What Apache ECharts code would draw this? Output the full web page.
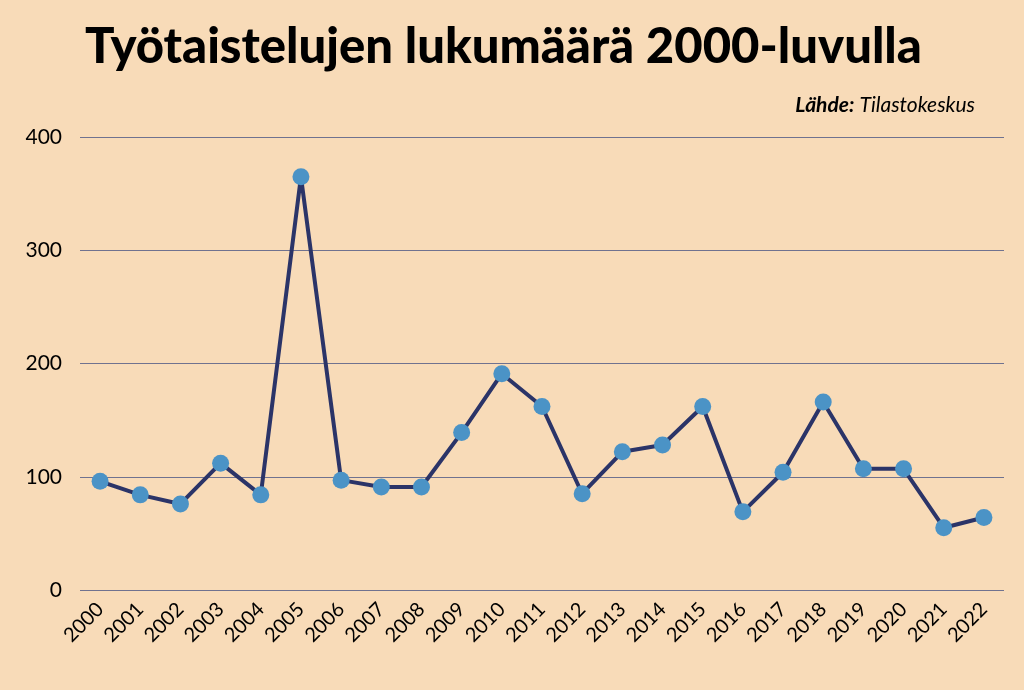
<!DOCTYPE html>
<html>
<head>
<meta charset="utf-8">
<style>
  html, body { margin: 0; padding: 0; background: #f8dbb8; }
  #chart { width: 1024px; height: 690px; }
</style>
<script src="https://cdn.jsdelivr.net/npm/echarts@6/dist/echarts.min.js"></script>
</head>
<body>
<div id="chart"></div>
<script>
var years = ['2000', '2001', '2002', '2003', '2004', '2005', '2006', '2007', '2008', '2009', '2010', '2011',
    '2012', '2013', '2014', '2015', '2016', '2017', '2018', '2019', '2020', '2021', '2022'];
var strikes = [96, 84, 76, 112, 84, 365, 97, 91, 91, 139, 191, 162,
    85, 122, 128, 162, 69, 104, 166, 107, 107, 55, 64];
var yTicks = [0, 100, 200, 300, 400];

var chart = echarts.init(document.getElementById('chart'));
var option = {
    backgroundColor: '#f8dbb8',
    title: [{
        text: 'Työtaistelujen lukumäärä 2000-luvulla',
        left: 80, top: 18,
        textStyle: {fontFamily: 'Lato', fontWeight: 900, fontSize: 49, color: '#000'}
    }, {
        text: '{b|Lähde:} {i|Tilastokeskus}',
        right: 44, top: 90,
        textStyle: {
            rich: {
                b: {fontFamily: 'Lato', fontWeight: 'bold', fontStyle: 'italic', fontSize: 21, color: '#000'},
                i: {fontFamily: 'Lato', fontWeight: 'normal', fontStyle: 'italic', fontSize: 21, color: '#000'}
            }
        }
    }],
    grid: {left: 80, right: 20, top: 137, bottom: 100, containLabel: false},
    xAxis: {
        type: 'category', data: years, boundaryGap: true,
        axisLine: {show: false}, axisTick: {show: false},
        axisLabel: {rotate: 45, margin: 16, fontFamily: 'Lato', fontSize: 20, color: '#000', interval: 0}
    },
    yAxis: {
        type: 'value', min: yTicks[0], max: yTicks[yTicks.length - 1], interval: 100,
        axisLine: {show: false}, axisTick: {show: false},
        axisLabel: {margin: 18, fontFamily: 'Lato', fontSize: 21, color: '#000'},
        splitLine: {lineStyle: {color: '#70728f', width: 1}}
    },
    series: [{
        type: 'line', data: strikes,
        symbol: 'circle', symbolSize: 17,
        lineStyle: {color: '#2b3468', width: 4},
        itemStyle: {color: '#4b93c6'},
        z: 3
    }]
};
chart.setOption(option);
</script>
</body>
</html>
